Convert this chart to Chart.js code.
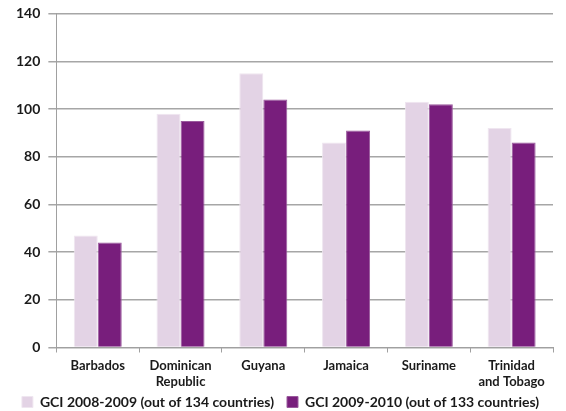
<!DOCTYPE html>
<html lang="en">
<head>
<meta charset="UTF-8">
<title>GCI ranking</title>
<script src="https://cdn.jsdelivr.net/npm/chart.js"></script>
<style>
  html, body { margin: 0; padding: 0; background: #fff; }
  #wrap { width: 566px; height: 411px; }
</style>
</head>
<body>
<div id="wrap"><canvas id="gciChart" width="566" height="411"></canvas></div>
<script>
// countries (multi-line labels)
const countries = [
    'Barbados',
    ['Dominican', 'Republic'],
    'Guyana',
    'Jamaica',
    'Suriname',
    ['Trinidad', 'and Tobago']
];
const seriesNames = ['GCI 2008-2009 (out of 134 countries)', 'GCI 2009-2010 (out of 133 countries)'];
const gci2008 = [47, 98, 115, 86, 103, 92];
const gci2009 = [44, 95, 104, 91, 102, 86];
const yTicks = [0, 20, 40, 60, 80, 100, 120, 140];

// legend keeps wide item spacing but takes less height,
// then is drawn a little higher inside its box
const tightLegend = {
    id: 'tightLegend',
    beforeLayout(chart) {
        const legend = chart.legend;
        if (legend && !legend._tight) {
            const fit = legend.fit.bind(legend);
            legend.fit = () => { fit(); legend.height -= 21; };
            legend._tight = true;
        }
    },
    afterLayout(chart) {
        if (chart.legend) chart.legend.top -= 13;
    }
};

new Chart(document.getElementById('gciChart'), {
    type: 'bar',
    data: {
        labels: countries,
        datasets: [
            {
                label: seriesNames[0],
                data: gci2008,
                backgroundColor: '#e3d3e5',
                borderColor: '#efe6f0',
                borderWidth: 1
            },
            {
                label: seriesNames[1],
                data: gci2009,
                backgroundColor: '#781e7c',
                borderColor: '#9a5a9d',
                borderWidth: 1
            }
        ]
    },
    options: {
        responsive: false,
        animation: false,
        layout: { padding: { left: 8, right: 13, top: 0, bottom: 0 } },
        datasets: { bar: { barPercentage: 1.0, categoryPercentage: 0.58 } },
        plugins: {
            tooltip: { enabled: false },
            legend: {
                position: 'bottom',
                labels: {
                    color: '#1a1a1a',
                    font: { family: 'Lato', weight: 'bold', size: 14 },
                    boxWidth: 11,
                    boxHeight: 11,
                    padding: 13
                }
            }
        },
        scales: {
            x: {
                grid: { display: true, drawOnChartArea: false, color: '#a0a0a0', tickLength: 5, offset: true },
                border: { color: '#a0a0a0', width: 1 },
                ticks: { color: '#1a1a1a', font: { family: 'Lato', weight: 'bold', size: 13, lineHeight: 1.25 }, maxRotation: 0, padding: 5 }
            },
            y: {
                min: 0,
                max: 140,
                afterBuildTicks: axis => { axis.ticks = yTicks.map(v => ({ value: v })); },
                grid: { color: '#a6a6a6', lineWidth: 1.5, tickLength: 8 },
                border: { color: '#a0a0a0', width: 1 },
                ticks: { color: '#1a1a1a', font: { family: 'Lato', weight: 'bold', size: 14, lineHeight: 0.8 }, padding: 8 }
            }
        }
    },
    plugins: [tightLegend]
});
</script>
</body>
</html>
